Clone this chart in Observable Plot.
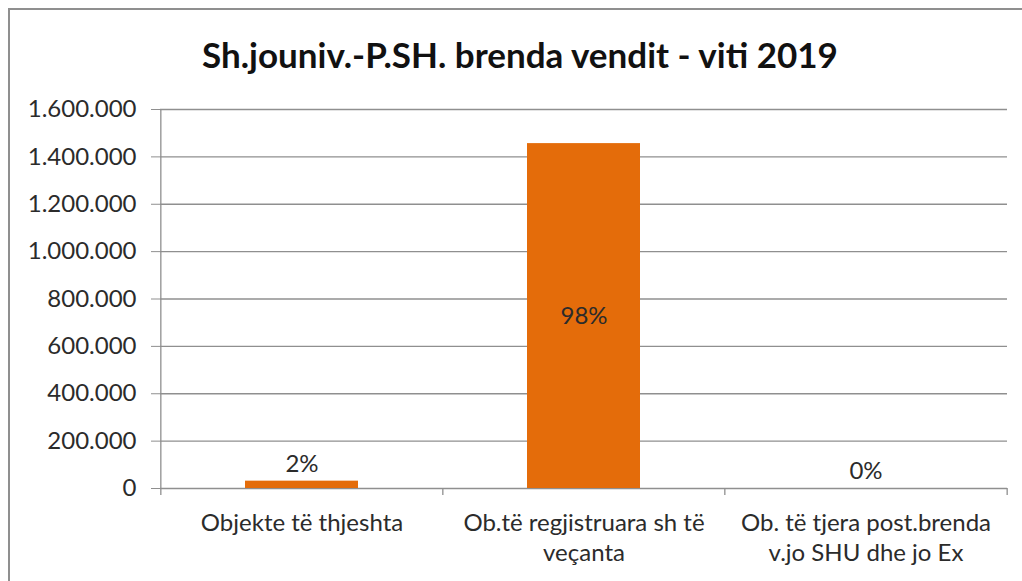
<!DOCTYPE html>
<html><head><meta charset="utf-8">
<script src="https://cdn.jsdelivr.net/npm/d3@7"></script>
<script src="https://cdn.jsdelivr.net/npm/@observablehq/plot@0.6"></script>
<style>
body{margin:0;background:#fff;}
#wrap{position:relative;width:1022px;height:581px;overflow:hidden;background:#fff;}
#frame{position:absolute;left:8px;top:8px;width:1100px;height:700px;border:2px solid #8f8f8f;box-sizing:border-box;}
#title{position:absolute;left:0;width:1040px;top:33px;text-align:center;font:bold 35px Lato;color:#111;white-space:nowrap;}
#chart{position:absolute;left:0;top:0;}
</style></head><body>
<div id="wrap"><div id="frame"></div><div id="title"></div><div id="chart"></div></div>
<script>
const titleText = "Sh.jouniv.-P.SH. brenda vendit - viti 2019";
const categories = ["Objekte të thjeshta", "Ob.të regjistruara sh të veçanta", "Ob. të tjera post.brenda v.jo SHU dhe jo Ex"];
const categoryLabels = ["Objekte të thjeshta", "Ob.të regjistruara sh të\nveçanta", "Ob. të tjera post.brenda\nv.jo SHU dhe jo Ex"];
const values = [31000, 1456000, 0];
const shares = ["2%", "98%", "0%"];
const yTicks = [0, 200000, 400000, 600000, 800000, 1000000, 1200000, 1400000, 1600000];
const yTickLabels = ["0", "200.000", "400.000", "600.000", "800.000", "1.000.000", "1.200.000", "1.400.000", "1.600.000"];

document.getElementById("title").textContent = titleText;

const W = 1022, H = 581, mL = 160, mR = 15, mT = 109, mB = 93;
const step = (W - mL - mR) / categories.length;
const frameH = H - mT - mB;
const data = categories.map((c, i) => ({cat: c, value: values[i], share: shares[i]}));
const maxV = d3.max(values);
const grid = "#8f8f8f";
const font = "Lato";
const ink = "#2b2b2b";

const chart = Plot.plot({
  width: W, height: H,
  marginLeft: mL, marginRight: mR, marginTop: mT, marginBottom: mB,
  style: {fontFamily: font, background: "transparent", color: ink},
  x: {domain: categories, paddingInner: 0.6, paddingOuter: 0.3, label: null},
  y: {domain: [0, 1600000], label: null},
  marks: [
    Plot.ruleY(yTicks, {stroke: grid, strokeWidth: 1.3}),
    Plot.ruleX([categories[0]], {dx: -step / 2, stroke: grid, strokeWidth: 1.3, insetBottom: -7}),
    Plot.ruleX(categories.slice(1), {dx: -step / 2, stroke: grid, strokeWidth: 1.3, insetTop: frameH, insetBottom: -7}),
    Plot.ruleX([categories[categories.length - 1]], {dx: step / 2, stroke: grid, strokeWidth: 1.3, insetTop: frameH, insetBottom: -7}),
    Plot.barY(data, {x: "cat", y: "value", fill: "#E46C0A"}),
    Plot.text(data.filter(d => d.value > maxV * 0.2), {x: "cat", y: d => d.value / 2, text: "share", fontSize: 24, fill: ink}),
    Plot.text(data.filter(d => d.value <= maxV * 0.2), {x: "cat", y: "value", text: "share", fontSize: 24, fill: ink, dy: -17}),
    Plot.axisY({ticks: yTicks, tickSize: 9, tickPadding: 15, stroke: grid, fontSize: 24, fill: ink,
      tickFormat: d => yTickLabels[yTicks.indexOf(d)]}),
    Plot.axisX({tickSize: 0, tickPadding: 21, fontSize: 24, fill: ink, lineHeight: 1.25,
      tickFormat: d => categoryLabels[categories.indexOf(d)]})
  ]
});
document.getElementById("chart").appendChild(chart);
</script>
</body></html>
